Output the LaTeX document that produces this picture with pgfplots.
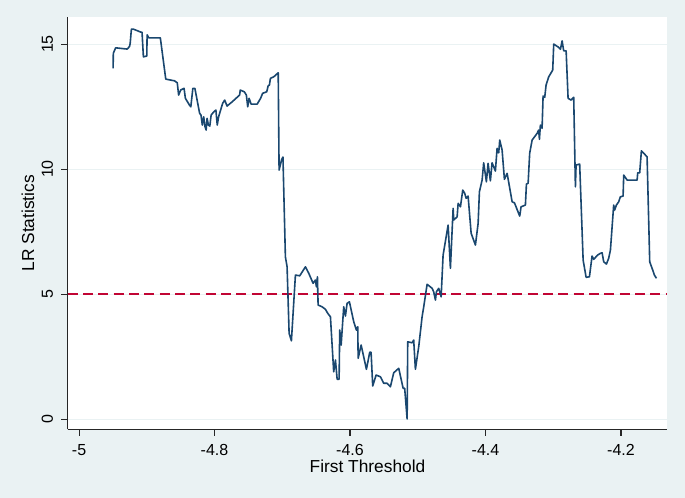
\documentclass[border=0pt]{standalone}
\usepackage{fontspec}
\setmainfont{Liberation Sans}
\usepackage{pgfplots}
\pgfplotsset{compat=1.18}
\definecolor{stbg}{HTML}{EAF2F3}
\definecolor{stnavy}{HTML}{1A476F}
\definecolor{stred}{HTML}{C10534}
\definecolor{stgrid}{HTML}{EAF2F3}

\pgfplotstableread{
x y
-4.9497 14.03
-4.9494 14.63
-4.9460 14.85
-4.9290 14.80
-4.9255 14.90
-4.9245 15.03
-4.9227 15.60
-4.9200 15.60
-4.9090 15.48
-4.9070 15.47
-4.9050 14.49
-4.9000 14.52
-4.8995 15.37
-4.8970 15.25
-4.8800 15.25
-4.8720 13.60
-4.8650 13.56
-4.8590 13.53
-4.8550 13.45
-4.8530 12.96
-4.8500 13.16
-4.8450 13.23
-4.8430 12.83
-4.8370 12.56
-4.8350 12.49
-4.8320 13.23
-4.8290 13.23
-4.8220 12.23
-4.8200 12.16
-4.8180 11.76
-4.8160 12.09
-4.8140 11.69
-4.8124 11.56
-4.8110 12.03
-4.8090 11.76
-4.8070 11.72
-4.8050 12.16
-4.8010 12.29
-4.7980 12.36
-4.7960 11.76
-4.7940 12.09
-4.7910 12.36
-4.7880 12.63
-4.7850 12.76
-4.7815 12.52
-4.7740 12.69
-4.7630 12.96
-4.7620 13.16
-4.7560 13.09
-4.7530 12.96
-4.7510 12.49
-4.7490 12.83
-4.7460 12.60
-4.7370 12.60
-4.7320 12.83
-4.7290 13.03
-4.7230 13.09
-4.7220 13.19
-4.7210 13.32
-4.7190 13.36
-4.7175 13.63
-4.7126 13.69
-4.7060 13.85
-4.7047 9.96
-4.7008 10.39
-4.6990 10.48
-4.6954 6.49
-4.6929 6.09
-4.6899 3.43
-4.6865 3.13
-4.6806 5.76
-4.6742 5.73
-4.6658 6.09
-4.6609 5.83
-4.6545 5.43
-4.6511 5.56
-4.6496 5.29
-4.6481 5.69
-4.6471 4.56
-4.6412 4.49
-4.6363 4.39
-4.6329 4.23
-4.6289 4.09
-4.6241 1.89
-4.6215 2.36
-4.6190 1.59
-4.6161 1.59
-4.6152 3.56
-4.6131 2.96
-4.6093 4.49
-4.6068 4.12
-4.6043 4.63
-4.6009 4.69
-4.5945 3.89
-4.5906 3.56
-4.5886 3.69
-4.5880 2.43
-4.5836 2.96
-4.5798 2.49
-4.5758 1.99
-4.5709 2.67
-4.5689 2.67
-4.5665 1.32
-4.5615 1.76
-4.5551 1.69
-4.5503 1.43
-4.5452 1.43
-4.5404 1.29
-4.5355 1.85
-4.5281 2.03
-4.5216 1.23
-4.5193 1.23
-4.5157 0.00
-4.5148 3.09
-4.5083 3.05
-4.5060 3.16
-4.5035 1.99
-4.4986 2.89
-4.4936 4.09
-4.4912 4.49
-4.4862 5.39
-4.4788 5.23
-4.4765 5.09
-4.4739 4.76
-4.4725 5.09
-4.4691 5.23
-4.4655 4.89
-4.4626 6.56
-4.4552 7.76
-4.4518 6.03
-4.4478 8.43
-4.4469 7.96
-4.4419 8.09
-4.4404 8.63
-4.4370 8.49
-4.4336 9.16
-4.4307 9.03
-4.4286 8.83
-4.4257 8.92
-4.4212 7.43
-4.4149 6.96
-4.4109 7.83
-4.4090 9.09
-4.4050 9.56
-4.4027 10.25
-4.3987 9.49
-4.3962 10.23
-4.3928 9.53
-4.3903 10.25
-4.3854 9.92
-4.3829 10.83
-4.3805 10.65
-4.3790 11.16
-4.3755 10.76
-4.3721 9.59
-4.3681 9.83
-4.3607 8.69
-4.3573 8.65
-4.3495 8.12
-4.3475 8.49
-4.3411 8.56
-4.3396 9.40
-4.3371 9.43
-4.3348 10.63
-4.3312 11.16
-4.3238 11.43
-4.3215 11.56
-4.3204 11.19
-4.3190 11.76
-4.3165 11.63
-4.3150 12.92
-4.3126 12.87
-4.3106 13.36
-4.3067 13.69
-4.3008 13.96
-4.2993 15.00
-4.2920 14.87
-4.2894 14.79
-4.2869 15.13
-4.2846 14.73
-4.2810 14.73
-4.2781 12.83
-4.2737 12.76
-4.2698 12.87
-4.2673 9.29
-4.2663 10.16
-4.2610 10.20
-4.2559 6.36
-4.2515 5.67
-4.2466 5.69
-4.2427 6.52
-4.2403 6.39
-4.2344 6.56
-4.2304 6.63
-4.2279 6.65
-4.2255 6.29
-4.2215 6.20
-4.2182 6.43
-4.2156 6.76
-4.2108 8.56
-4.2093 8.36
-4.2068 8.56
-4.2034 8.69
-4.2009 8.89
-4.1969 8.92
-4.1960 9.76
-4.1910 9.56
-4.1762 9.56
-4.1753 9.85
-4.1724 9.85
-4.1699 10.73
-4.1615 10.49
-4.1576 6.29
-4.1541 6.03
-4.1507 5.76
-4.1477 5.63
}\lrstat

\begin{document}
\begin{tikzpicture}
\fill[stbg] (-50.8pt,-51.5pt) rectangle (463pt,322pt);
\useasboundingbox (-50.8pt,-51.5pt) rectangle (463pt,322pt);
\begin{axis}[
  at={(0pt,0pt)}, anchor=south west,
  scale only axis, width=449.7pt, height=309pt,
  xmin=-5.0167, xmax=-4.1317, ymin=-0.41, ymax=16.07,
  axis background/.style={fill=white},
  axis lines=left,
  axis line style={-, line width=0.8pt, black!85},
  tick align=outside, major tick length=5pt,
  tick style={line width=0.8pt, black!85},
  xtick={-5,-4.8,-4.6,-4.4,-4.2},
  xticklabels={-5,-4.8,-4.6,-4.4,-4.2},
  ytick={0,5,10,15}, yticklabels={0,5,10,15},
  xticklabel style={yshift=-3pt},
  yticklabel style={rotate=90, anchor=south, xshift=0pt, yshift=2.5pt},
  ticklabel style={font=\fontsize{12}{13}\selectfont},
  ymajorgrids, grid style={stgrid, line width=0.8pt},
  xlabel={First Threshold}, ylabel={LR Statistics},
  every axis x label/.style={at={(axis description cs:0.5,0)}, anchor=center,
    yshift=-28pt, font=\fontsize{13}{14}\selectfont},
  every axis y label/.style={at={(axis description cs:0,0.5)}, anchor=center,
    xshift=-29.8pt, rotate=90, font=\fontsize{13}{14}\selectfont},
]
\addplot[stred, line width=1.1pt, dash pattern=on 7.5pt off 4pt] coordinates {(-5.0167,5) (-4.1317,5)};
\addplot[stnavy, line width=1.2pt, line join=round] table[x=x, y=y] {\lrstat};
\end{axis}
\end{tikzpicture}
\end{document}
